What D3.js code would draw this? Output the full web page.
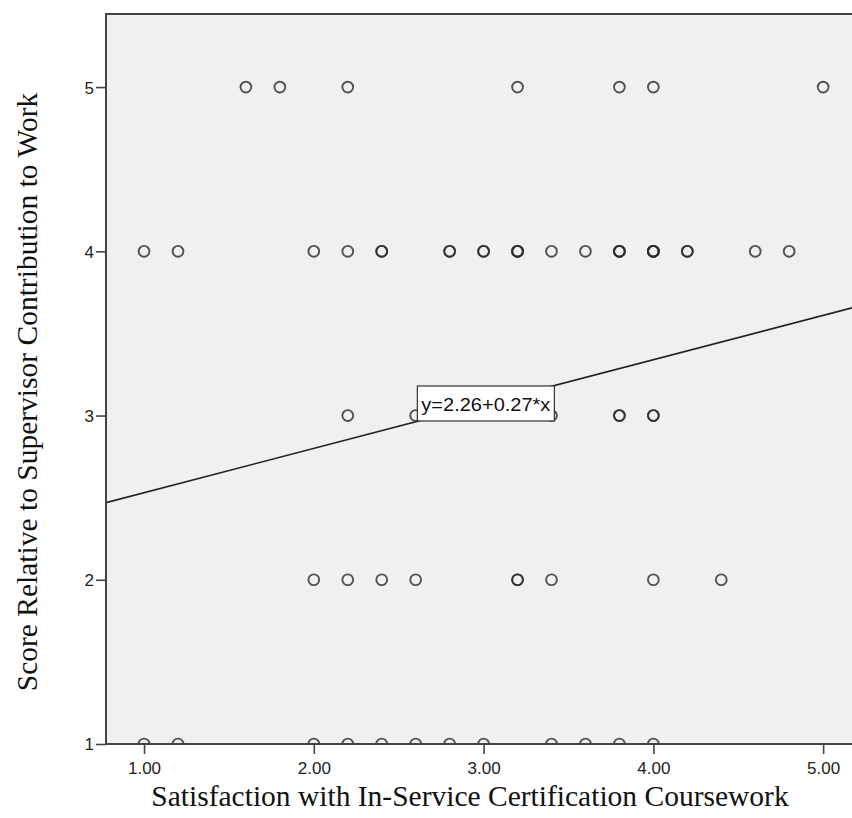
<!DOCTYPE html>
<html>
<head>
<meta charset="utf-8">
<script src="https://cdn.jsdelivr.net/npm/d3@7"></script>
<style>
  body { margin: 0; background: #fff; }
  svg { display: block; }
</style>
</head>
<body>
<div id="chart"></div>
<script>
// data (duplicates = overlapping cases, they draw darker)
let score_5 = [1.6, 1.8, 2.2, 3.2, 3.8, 4.0, 5.0];
let score_4 = [1.0, 1.2, 2.0, 2.2, 2.4, 2.4, 2.8, 2.8, 3.0, 3.0, 3.2, 3.2, 3.2,
  3.4, 3.6, 3.8, 3.8, 3.8, 4.0, 4.0, 4.0, 4.0, 4.2, 4.2, 4.6, 4.8];
let score_3 = [2.2, 2.6, 3.4, 3.8, 3.8, 4.0, 4.0];
let score_2 = [2.0, 2.2, 2.4, 2.6, 3.2, 3.2, 3.4, 4.0, 4.4];
let score_1 = [1.0, 1.2, 2.0, 2.2, 2.4, 2.6, 2.8, 3.0, 3.4, 3.6, 3.8, 4.0];

let x_ticks = [1, 2, 3, 4, 5];
let y_ticks = [1, 2, 3, 4, 5];
let fit = { intercept: 2.26, slope: 0.27 };

let points = [];
[[1, score_1], [2, score_2], [3, score_3], [4, score_4], [5, score_5]].forEach(
  ([y, xs]) => xs.forEach((x) => points.push({ x: x, y: y }))
);

let width = 852, height = 818;
let margin = { top: 14, right: 0, bottom: 74, left: 106 };

let svg = d3.select("#chart").append("svg")
  .attr("width", width)
  .attr("height", height);

let x = d3.scaleLinear().domain([0.776, 5.17]).range([margin.left, width - margin.right]);
let y = d3.scaleLinear().domain([1, 5.445]).range([height - margin.bottom, margin.top]);

// plot background
svg.append("rect")
  .attr("x", margin.left)
  .attr("y", margin.top)
  .attr("width", width - margin.left - margin.right)
  .attr("height", height - margin.top - margin.bottom)
  .attr("fill", "#f0f0f0");

svg.append("clipPath").attr("id", "plot-clip")
  .append("rect")
  .attr("x", margin.left)
  .attr("y", margin.top)
  .attr("width", width - margin.left - margin.right)
  .attr("height", height - margin.top - margin.bottom);

let plot = svg.append("g").attr("clip-path", "url(#plot-clip)");

// regression line
let x0 = x.domain()[0], x1 = x.domain()[1];
plot.append("line")
  .attr("x1", x(x0))
  .attr("y1", y(fit.intercept + fit.slope * x0))
  .attr("x2", x(x1))
  .attr("y2", y(fit.intercept + fit.slope * x1))
  .attr("stroke", "#222")
  .attr("stroke-width", 1.6);

// points
plot.selectAll("circle")
  .data(points)
  .enter()
  .append("circle")
  .attr("cx", (d) => x(d.x))
  .attr("cy", (d) => y(d.y))
  .attr("r", 5.4)
  .attr("fill", "none")
  .attr("stroke", "#2a2a2a")
  .attr("stroke-opacity", 0.8)
  .attr("stroke-width", 1.9);

// equation label
let label_x = 2.61, label_y = 3.18;
let lbl = svg.append("g");
lbl.append("rect")
  .attr("x", x(label_x))
  .attr("y", y(label_y))
  .attr("width", 137)
  .attr("height", 35)
  .attr("fill", "#fff")
  .attr("stroke", "#333")
  .attr("stroke-width", 1.2);
lbl.append("text")
  .attr("x", x(label_x) + 4)
  .attr("y", y(label_y) + 25)
  .attr("font-family", "Liberation Sans, Arial, sans-serif")
  .attr("font-size", 19)
  .attr("textLength", 129)
  .attr("lengthAdjust", "spacingAndGlyphs")
  .attr("fill", "#111")
  .text("y=" + fit.intercept + "+" + fit.slope + "*x");

// axes
let axis_color = "#444";
svg.append("path")
  .attr("d", `M${width},${margin.top}H${margin.left}V${height - margin.bottom}H${width}`)
  .attr("fill", "none")
  .attr("stroke", axis_color)
  .attr("stroke-width", 2);

let xAxis = svg.append("g")
  .attr("transform", `translate(0,${height - margin.bottom})`)
  .call(d3.axisBottom(x).tickValues(x_ticks).tickFormat(d3.format(".2f")).tickSize(10).tickSizeOuter(0));
let yAxis = svg.append("g")
  .attr("transform", `translate(${margin.left},0)`)
  .call(d3.axisLeft(y).tickValues(y_ticks).tickFormat(d3.format("d")).tickSize(10).tickSizeOuter(0));

[xAxis, yAxis].forEach((a) => {
  a.select(".domain").remove();
  a.selectAll("line").attr("stroke", axis_color).attr("stroke-width", 1.6);
  a.selectAll("text")
    .attr("fill", "#222")
    .attr("font-family", "Liberation Sans, Arial, sans-serif")
    .attr("font-size", 17);
});
xAxis.selectAll("text").attr("y", 15).attr("dy", "0.9em");
yAxis.selectAll("text").attr("dy", "0.35em").attr("x", -12);

// axis titles
svg.append("text")
  .attr("x", 470)
  .attr("y", 806)
  .attr("text-anchor", "middle")
  .attr("font-family", "Liberation Serif, Times New Roman, serif")
  .attr("font-size", 29.5)
  .attr("fill", "#111")
  .text("Satisfaction with In-Service Certification Coursework");

svg.append("text")
  .attr("transform", "translate(37,392) rotate(-90)")
  .attr("text-anchor", "middle")
  .attr("font-family", "Liberation Serif, Times New Roman, serif")
  .attr("font-size", 29.5)
  .attr("fill", "#111")
  .text("Score Relative to Supervisor Contribution to Work");
</script>
</body>
</html>
